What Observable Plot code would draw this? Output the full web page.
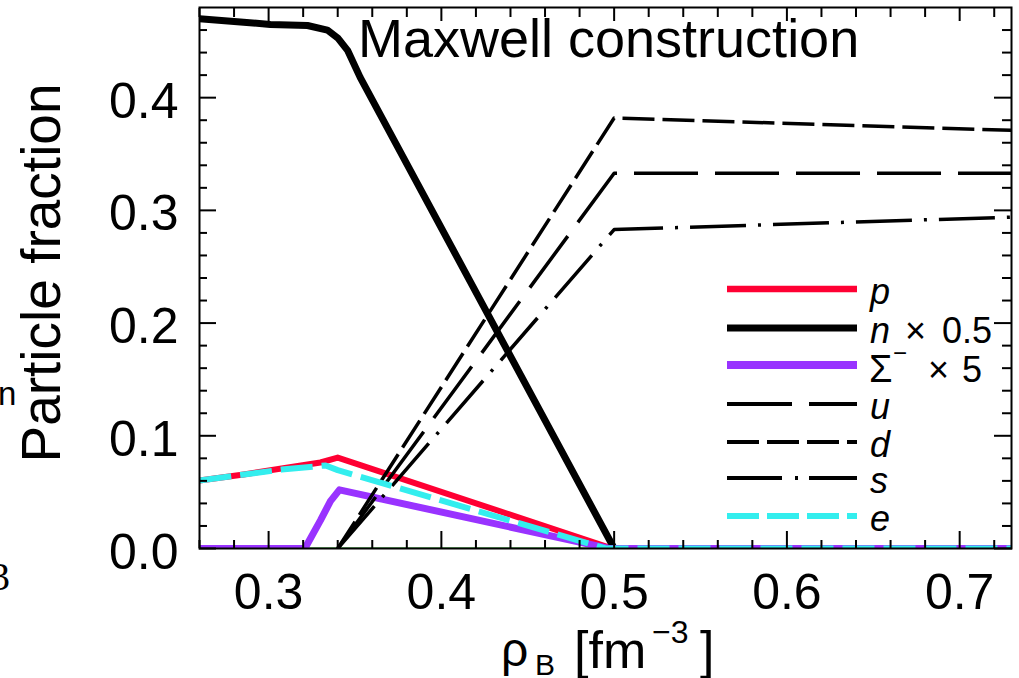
<!DOCTYPE html>
<html><head><meta charset="utf-8">
<script src="https://cdn.jsdelivr.net/npm/d3@7"></script>
<script src="https://cdn.jsdelivr.net/npm/@observablehq/plot@0.6"></script>
<style>
html,body{margin:0;padding:0;background:#fff;}
#chart{position:relative;width:1019px;height:678px;overflow:hidden;background:#fff;}
</style></head><body><div id="chart"></div>
<script>
// ---- data ----
const rhoN   = [0.26, 0.2855, 0.301, 0.3225, 0.334, 0.340, 0.3457, 0.353, 0.5, 0.73];
const nHalf  = [0.470, 0.467, 0.465, 0.464, 0.460, 0.453, 0.442, 0.418, 0.0, 0.0];
const rhoP   = [0.26, 0.2855, 0.3075, 0.330, 0.340, 0.499, 0.73];
const pFrac  = [0.0604, 0.0657, 0.0710, 0.0763, 0.0807, 0.0, 0.0];
const rhoE   = [0.26, 0.3075, 0.333, 0.340, 0.495, 0.73];
const eFrac  = [0.0604, 0.0700, 0.0737, 0.0695, 0.0, 0.0];
const rhoSig = [0.26, 0.321, 0.330, 0.3358, 0.341, 0.497, 0.73];
const sigX5  = [0.0, 0.0, 0.025, 0.042, 0.052, 0.0, 0.0];
const rhoQ   = [0.34, 0.50, 0.73];
const uFrac  = [0.0, 0.333, 0.333];
const dFrac  = [0.0, 0.382, 0.371];
const sFrac  = [0.0, 0.283, 0.294];
const rhoG   = [0.26, 0.73];
const gFrac  = [0.0, 0.0];

const xMajor = [0.3, 0.4, 0.5, 0.6, 0.7];
const xMinor = [0.26, 0.28, 0.32, 0.34, 0.36, 0.38, 0.42, 0.44, 0.46, 0.48, 0.52, 0.54, 0.56, 0.58, 0.62, 0.64, 0.66, 0.68, 0.72];
const yMajor = [0.0, 0.1, 0.2, 0.3, 0.4];
const yMinor = [0.02, 0.04, 0.06, 0.08, 0.12, 0.14, 0.16, 0.18, 0.22, 0.24, 0.26, 0.28, 0.32, 0.34, 0.36, 0.38, 0.42, 0.44, 0.46];

const rows = (xs, ys) => xs.map((x, i) => ({rho: x, frac: ys[i]}));

const styles = {
  g:   {stroke: "#009900", width: 2,   dash: null},
  p:   {stroke: "#ff0033", width: 6,   dash: null},
  n:   {stroke: "#000000", width: 7,   dash: null},
  sig: {stroke: "#9933ff", width: 7,   dash: null},
  u:   {stroke: "#000000", width: 3.5, dash: "64,17"},
  d:   {stroke: "#000000", width: 3.5, dash: "32,8"},
  s:   {stroke: "#000000", width: 3.5, dash: "56,12,3,12"},
  e:   {stroke: "#33eeee", width: 6,   dash: "32,9"}
};
const seriesList = [
  ["g", rhoG, gFrac], ["p", rhoP, pFrac], ["n", rhoN, nHalf], ["sig", rhoSig, sigX5],
  ["u", rhoQ, uFrac], ["d", rhoQ, dFrac], ["s", rhoQ, sFrac], ["e", rhoE, eFrac]
];
const lineMarks = seriesList.map(([k, xs, ys]) => Plot.line(rows(xs, ys), {
  x: "rho", y: "frac", stroke: styles[k].stroke, strokeWidth: styles[k].width,
  strokeDasharray: styles[k].dash, strokeLinecap: "butt", strokeLinejoin: "round", clip: true
}));

const fmt = d3.format(".1f");
const tickOnly = {fill: "none", label: null, strokeWidth: 2};
const svg = Plot.plot({
  width: 1019, height: 678,
  marginLeft: 199, marginRight: 8, marginTop: 7, marginBottom: 130,
  style: {fontFamily: "'Liberation Sans', Arial, sans-serif", color: "#000", background: "#fff"},
  x: {domain: [0.26, 0.73]},
  y: {domain: [0, 0.48]},
  marks: [
    ...lineMarks,
    Plot.frame({stroke: "#000", strokeWidth: 2}),
    Plot.axisX({anchor: "bottom", ticks: xMajor, tickSize: -17, ...tickOnly}),
    Plot.axisX({anchor: "bottom", ticks: xMinor, tickSize: -8, ...tickOnly}),
    Plot.axisX({anchor: "top", ticks: xMajor, tickSize: -13, ...tickOnly}),
    Plot.axisX({anchor: "top", ticks: xMinor, tickSize: -9, ...tickOnly}),
    Plot.axisY({anchor: "left", ticks: yMajor, tickSize: -17, ...tickOnly}),
    Plot.axisY({anchor: "left", ticks: yMinor, tickSize: -8, ...tickOnly}),
    Plot.axisY({anchor: "right", ticks: yMajor, tickSize: -18, ...tickOnly}),
    Plot.axisY({anchor: "right", ticks: yMinor, tickSize: -10, ...tickOnly}),
    Plot.axisX({anchor: "bottom", ticks: xMajor, tickSize: 0, tickPadding: 25, tickFormat: fmt, label: null, fontSize: 50}),
    Plot.axisY({anchor: "left", ticks: yMajor, tickSize: 0, tickPadding: 21, tickFormat: fmt, label: null, fontSize: 50, dy: 4})
  ]
});
document.getElementById("chart").appendChild(svg);

// ---- annotations: title, axis labels, legend ----
const S = d3.select(svg);
const FF = "'Liberation Sans', Arial, sans-serif";
const txt = (x, y, s, size, opts = {}) => S.append("text").attr("x", x).attr("y", y)
  .attr("font-family", opts.family || FF).attr("font-size", size)
  .attr("font-style", opts.italic ? "italic" : null)
  .attr("text-anchor", opts.anchor || "start").attr("fill", "#000").text(s);

txt(358, 57, "Maxwell construction", 54);
S.append("text").attr("transform", "translate(60,273) rotate(-90)")
  .attr("font-family", FF).attr("font-size", 55).attr("text-anchor", "middle")
  .attr("fill", "#000").text("Particle fraction");
txt(501, 666, "ρ", 48);
txt(535, 675, "B", 30);
txt(574, 668, "[fm", 52);
txt(652, 643, "−3", 32);
txt(700, 668, "]", 52);
// fragments of a neighbouring panel cut by the crop
txt(-2, 405, "n", 33);
txt(-10, 590, "3", 40, {family: "'Liberation Serif', 'Times New Roman', serif"});

// legend
const legendOrder = ["p", "n", "sig", "u", "d", "s", "e"];
const legendY = [289, 328, 365, 404, 442, 478, 516];
const legendDash = {u: "65,17", d: "32,8", s: "55,13,3,11", e: "32,8"};
const legendWidth = {p: 6.5, n: 7, sig: 8, u: 4, d: 4, s: 4, e: 6};
legendOrder.forEach((k, i) => {
  S.append("line").attr("x1", 727).attr("x2", 857).attr("y1", legendY[i]).attr("y2", legendY[i])
    .attr("stroke", styles[k].stroke).attr("stroke-width", legendWidth[k])
    .attr("stroke-dasharray", legendDash[k] || null);
});
const ly = i => legendY[i] + 15;
txt(870, ly(0), "p", 36, {italic: true});
txt(870, ly(1), "n", 36, {italic: true});
txt(905, ly(1), "×", 36);
txt(942, ly(1), "0.5", 36);
txt(869, ly(2) + 2, "Σ", 38);
txt(893, ly(2) - 19, "−", 24);
txt(928, ly(2) + 2, "×", 36);
txt(962, ly(2) + 2, "5", 36);
txt(870, ly(3), "u", 36, {italic: true});
txt(870, ly(4), "d", 36, {italic: true});
txt(870, ly(5), "s", 36, {italic: true});
txt(870, ly(6), "e", 36, {italic: true});
</script></body></html>
